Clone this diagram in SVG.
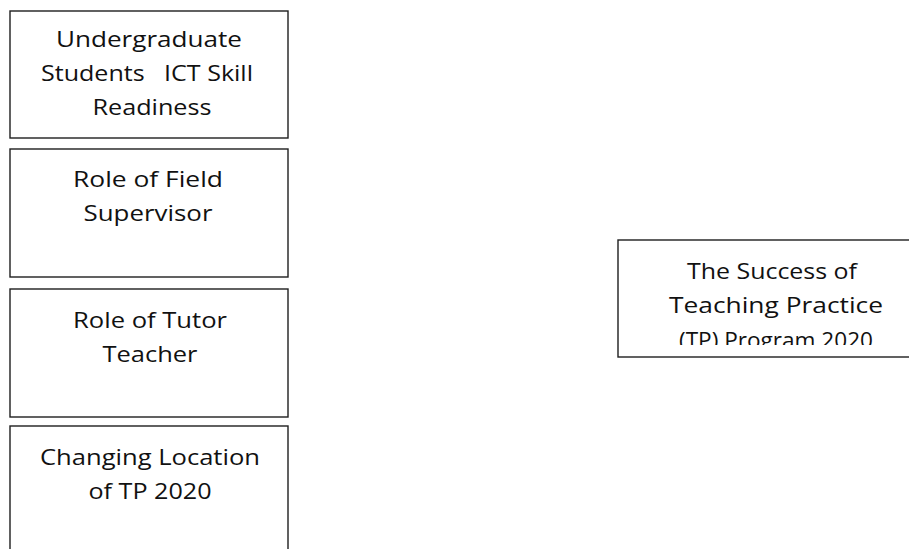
<svg xmlns="http://www.w3.org/2000/svg" width="909" height="549" viewBox="0 0 909 549">
<style>
  .box { fill: #ffffff; stroke: #1e1e1e; stroke-width: 1.4; }
  .lbl { font-family: "Open Sans", "Liberation Sans", sans-serif; font-size: 21px; fill: #111111; text-anchor: middle; white-space: pre; }
</style>
<defs>
  <clipPath id="clipR"><rect x="619" y="241" width="300" height="104"/></clipPath>
</defs>
<rect x="0" y="0" width="909" height="549" fill="#ffffff"/>
<g id="connectors"/>
<g id="node-ict">
  <rect class="box" x="10" y="11" width="278" height="127"/>
  <text class="lbl" x="149" y="47" textLength="186" lengthAdjust="spacingAndGlyphs">Undergraduate</text>
  <text class="lbl" x="147" y="81" textLength="212" lengthAdjust="spacingAndGlyphs">Students   ICT Skill</text>
  <text class="lbl" x="152" y="115" textLength="119" lengthAdjust="spacingAndGlyphs">Readiness</text>
</g>
<g id="node-supervisor">
  <rect class="box" x="10" y="149" width="278" height="128"/>
  <text class="lbl" x="148" y="187" textLength="150" lengthAdjust="spacingAndGlyphs">Role of Field</text>
  <text class="lbl" x="148" y="221" textLength="129" lengthAdjust="spacingAndGlyphs">Supervisor</text>
</g>
<g id="node-tutor">
  <rect class="box" x="10" y="289" width="278" height="128"/>
  <text class="lbl" x="150" y="328" textLength="154" lengthAdjust="spacingAndGlyphs">Role of Tutor</text>
  <text class="lbl" x="150" y="362" textLength="95" lengthAdjust="spacingAndGlyphs">Teacher</text>
</g>
<g id="node-location">
  <rect class="box" x="10" y="426" width="278" height="140"/>
  <text class="lbl" x="150" y="465" textLength="220" lengthAdjust="spacingAndGlyphs">Changing Location</text>
  <text class="lbl" x="150" y="499" textLength="123" lengthAdjust="spacingAndGlyphs">of TP 2020</text>
</g>
<g id="node-success">
  <rect class="box" x="618" y="240" width="320" height="117"/>
  <text class="lbl" x="772" y="279" textLength="170" lengthAdjust="spacingAndGlyphs">The Success of</text>
  <text class="lbl" x="776" y="313" textLength="214" lengthAdjust="spacingAndGlyphs">Teaching Practice</text>
  <text class="lbl" x="776" y="348" textLength="194" lengthAdjust="spacingAndGlyphs" clip-path="url(#clipR)">(TP) Program 2020</text>
</g>
</svg>
